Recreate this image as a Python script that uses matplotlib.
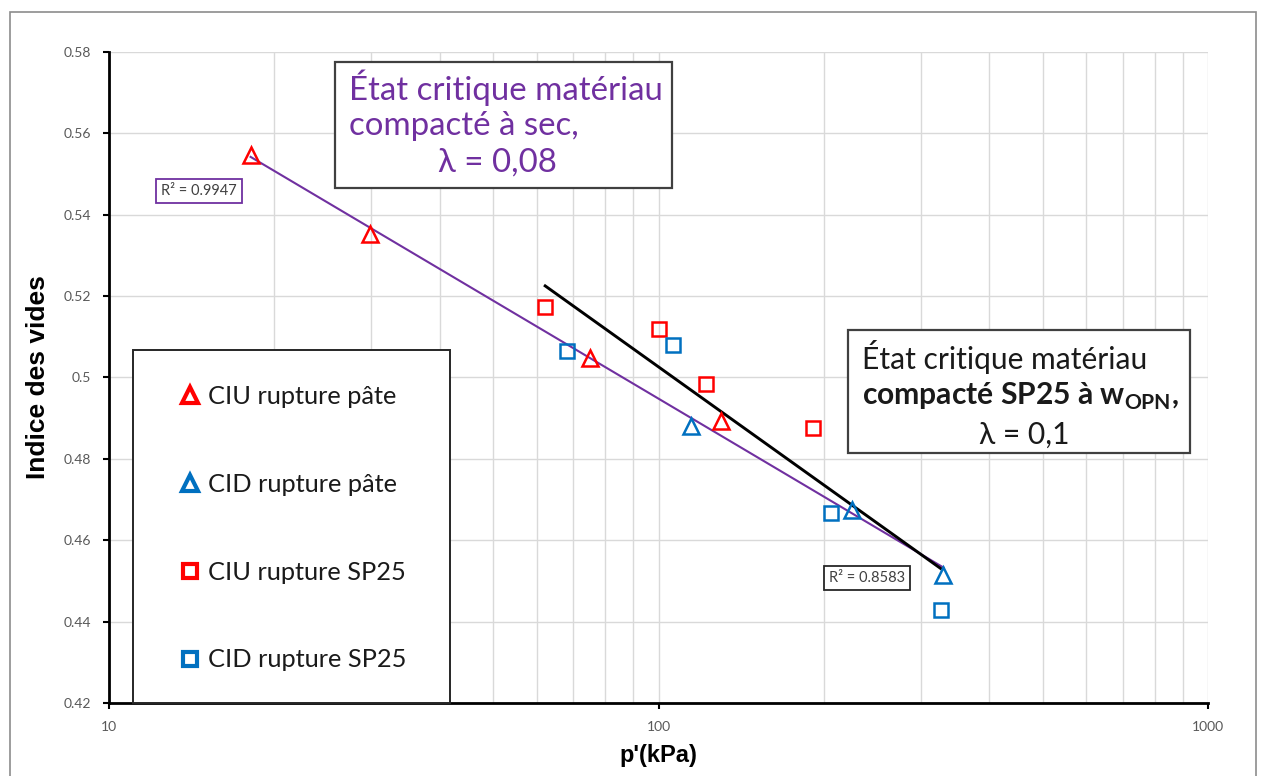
import numpy as np
import matplotlib.pyplot as plt
from matplotlib.lines import Line2D
from matplotlib.patches import Rectangle
from matplotlib.ticker import FixedLocator, LogLocator, NullFormatter

plt.rcParams['font.family'] = ['Lato', 'DejaVu Sans']
plt.rcParams['mathtext.fontset'] = 'custom'
plt.rcParams['mathtext.rm'] = 'Lato'
plt.rcParams['mathtext.bf'] = 'Lato:bold'

# DONNEES : p' (kPa) et indice des vides a la rupture
p_ciu_pate = [18.1, 29.9, 75.2, 130.0]
e_ciu_pate = [0.5547, 0.5353, 0.5049, 0.4894]
p_cid_pate = [114.8, 225.0, 330.0]
e_cid_pate = [0.4882, 0.4674, 0.4514]
p_ciu_sp25 = [62.2, 100.4, 122.0, 191.0]
e_ciu_sp25 = [0.5174, 0.5118, 0.4983, 0.4877]
p_cid_sp25 = [68.2, 106.4, 205.6, 326.0]
e_cid_sp25 = [0.5064, 0.5079, 0.4666, 0.4428]

labels = ['CIU rupture pâte', 'CID rupture pâte', 'CIU rupture SP25', 'CID rupture SP25']
r2_sec = 'R² = 0.9947'
r2_opn = 'R² = 0.8583'
y_ticks = [0.42, 0.44, 0.46, 0.48, 0.50, 0.52, 0.54, 0.56, 0.58]
x_ticks = [10, 100, 1000]

RED, BLUE, PURPLE = '#ff0000', '#0070c0', '#7030a0'
W, H = 1265, 776  # px


def log_trend(p, e):
    # droite e = a + b*log10(p') sur l'etendue des points
    b, a = np.polyfit(np.log10(p), e, 1)
    pp = np.array([min(p), max(p)])
    return pp, a + b * np.log10(pp)


def fx(x):
    return x / W


def fy(y):
    return 1 - y / H


def box(fig, x0, y0, x1, y1, ec='#404040', lw=1.6):
    fig.add_artist(Rectangle((fx(x0), fy(y1)), (x1 - x0) / W, (y1 - y0) / H,
                             transform=fig.transFigure, fc='white', ec=ec, lw=lw, zorder=2))


fig = plt.figure(figsize=(W / 100, H / 100), dpi=100)
ax = fig.add_axes([fx(109), fy(703), (1208 - 109) / W, (703 - 52) / H])

ax.set_xscale('log')
ax.set_xlim(10, 1000)
ax.set_ylim(0.42, 0.58)

mk = dict(ls='none', mfc='none', mew=1.8)
ax.plot(p_ciu_pate, e_ciu_pate, marker='^', ms=11.5, mec=RED, **mk, zorder=4)
ax.plot(p_cid_pate, e_cid_pate, marker='^', ms=11.5, mec=BLUE, **mk, zorder=4)
ax.plot(p_ciu_sp25, e_ciu_sp25, marker='s', ms=9.5, mec=RED, **mk, zorder=4)
ax.plot(p_cid_sp25, e_cid_sp25, marker='s', ms=9.5, mec=BLUE, **mk, zorder=4)

# courbes de tendance : pate (triangles) et SP25 (carres)
px_s, e_s = log_trend(p_ciu_pate + p_cid_pate, e_ciu_pate + e_cid_pate)
px_o, e_o = log_trend(p_ciu_sp25 + p_cid_sp25, e_ciu_sp25 + e_cid_sp25)
ax.plot(px_s, e_s, color=PURPLE, lw=1.5, zorder=3)
ax.plot(px_o, e_o, color='black', lw=2.1, zorder=3)

# axes facon Excel
for s in ['top', 'right']:
    ax.spines[s].set_visible(False)
for s in ['left', 'bottom']:
    ax.spines[s].set_linewidth(2.0)
ax.yaxis.set_major_locator(FixedLocator(y_ticks))
ax.set_yticklabels([f'{v:g}' for v in y_ticks])
ax.xaxis.set_major_locator(FixedLocator(x_ticks))
ax.set_xticklabels([str(v) for v in x_ticks])
ax.xaxis.set_minor_locator(LogLocator(base=10, subs=np.arange(2, 10)))
ax.xaxis.set_minor_formatter(NullFormatter())
ax.tick_params(axis='both', which='major', direction='out', length=4, width=1.5,
               labelsize=10, labelcolor='#595959')
ax.tick_params(axis='y', pad=9)
ax.tick_params(axis='x', pad=9)
ax.tick_params(which='minor', length=0)
ax.grid(True, which='both', color='#d9d9d9', lw=1.0)
ax.set_axisbelow(True)

ax.set_ylabel('Indice des vides', family=['Liberation Sans Narrow', 'Liberation Sans'],
              fontsize=19, fontweight='bold', labelpad=10)
ax.set_xlabel("p'(kPa)", family=['Liberation Sans Narrow', 'Liberation Sans'],
              fontsize=17, fontweight='bold', labelpad=8)

# cadre exterieur
fig.add_artist(Rectangle((fx(10), -0.01), (1256 - 10) / W, fy(12) + 0.01,
                         transform=fig.transFigure, fill=False, ec='#8c8c8c', lw=1.2))

# legende
box(fig, 133, 350, 450, 703, ec='#262626', lw=1.4)
handles = [
    Line2D([], [], marker='^', ms=11, mec=RED, mfc='none', mew=3, ls='none'),
    Line2D([], [], marker='^', ms=11, mec=BLUE, mfc='none', mew=3, ls='none'),
    Line2D([], [], marker='s', ms=10, mec=RED, mfc='none', mew=3, ls='none'),
    Line2D([], [], marker='s', ms=10, mec=BLUE, mfc='none', mew=3, ls='none'),
]
leg = fig.legend(handles, labels, loc='upper left', bbox_to_anchor=(fx(178), fy(385)),
                 frameon=False, fontsize=18.3, labelspacing=2.55, handlelength=0.95,
                 handletextpad=0.22, borderpad=0, borderaxespad=0)
for t in leg.get_texts():
    t.set_color('#1a1a1a')

# etat critique, materiau compacte a sec
box(fig, 335, 62, 672, 188)
fig.text(fx(349), fy(88), 'État critique matériau', color=PURPLE, fontsize=23.8,
         va='center', ha='left', zorder=3)
fig.text(fx(349), fy(126), 'compacté à sec,', color=PURPLE, fontsize=23.8,
         va='center', ha='left', zorder=3)
fig.text(fx(497), fy(163), 'λ = 0,08', color=PURPLE, fontsize=23.8,
         va='center', ha='center', zorder=3)

# etat critique, materiau compacte SP25 a w_OPN
box(fig, 848, 330, 1190, 453)
fig.text(fx(862), fy(357), 'État critique matériau', color='#1a1a1a', fontsize=21.6,
         va='center', ha='left', zorder=3)
fig.text(fx(862), fy(396), r'compacté SP25 à w$_\mathbf{OPN}$,', color='#1a1a1a',
         fontsize=21.6, fontweight='bold', va='center', ha='left', zorder=3)
fig.text(fx(1024), fy(435), 'λ = 0,1', color='#1a1a1a', fontsize=21.6,
         va='center', ha='center', zorder=3)

# coefficients de determination
fig.text(fx(199), fy(191), r2_sec, fontsize=10.5, color='#404040', ha='center', va='center',
         bbox=dict(boxstyle='square,pad=0.35', fc='white', ec=PURPLE, lw=1.3), zorder=3)
fig.text(fx(867), fy(578), r2_opn, fontsize=10.5, color='#404040', ha='center', va='center',
         bbox=dict(boxstyle='square,pad=0.35', fc='white', ec='#262626', lw=1.3), zorder=3)

fig.savefig('out.png', dpi=100)
